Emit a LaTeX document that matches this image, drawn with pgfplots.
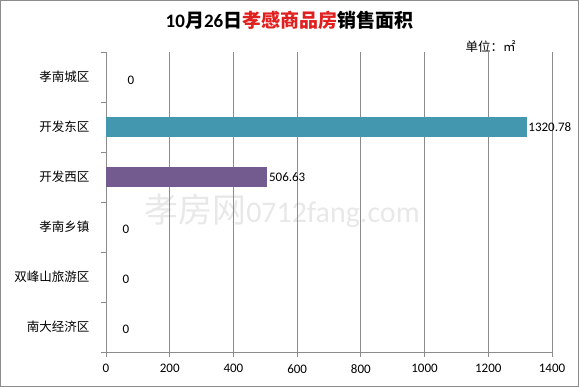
\documentclass[border=0pt]{standalone}
\usepackage{pgfplots}
\pgfplotsset{compat=1.18}
\usepackage{fontspec}
\setmainfont{Noto Sans CJK SC}
\newfontfamily\carlito{Carlito}
\newfontfamily\cjk{Noto Sans CJK SC}
\definecolor{barA}{HTML}{4397AE}
\definecolor{barB}{HTML}{735A8F}
\definecolor{gridc}{HTML}{8C8C8C}
\definecolor{titlered}{HTML}{E0201F}
\begin{document}
\begin{tikzpicture}[x=1pt,y=1pt]
\useasboundingbox (0,0) rectangle (579,387);
\draw[gridc, line width=1pt] (0.5,0.5) rectangle (578.5,386.5);
\node[font=\fontsize{19}{19}\selectfont\bfseries] at (289.5,367) {{\carlito 10}月{\carlito 26}日\textcolor{titlered}{孝感商品房}销售面积};
\node[font=\fontsize{12.5}{12.5}\selectfont, anchor=west] at (462,340) {单位：㎡};
\node[font=\fontsize{34}{34}\selectfont, text=black!9] at (282,176) {孝房网{\carlito\fontsize{30}{30}\selectfont 0712fang.com}};
\begin{axis}[
  at={(106pt,35pt)}, anchor=south west, scale only axis,
  width=446pt, height=300pt,
  xmin=0, xmax=1400, ymin=-0.5, ymax=5.5,
  xbar, bar shift=0pt, bar width=20pt,
  xtick={0,200,...,1400},
  ytick={0,1,2,3,4,5},
  yticklabels={南大经济区,双峰山旅游区,孝南乡镇,开发西区,开发东区,孝南城区},
  minor ytick={-0.5,0.5,...,5.5},
  tick align=outside,
  major tick length=5pt, minor tick length=5pt,
  ytick style={draw=none},
  minor y tick style={draw=gridc, line width=0.8pt},
  x tick style={draw=gridc, line width=0.8pt},
  xmajorgrids, grid style={gridc, line width=0.8pt},
  axis x line*=bottom, axis y line*=left,
  axis line style={gridc, line width=0.8pt, -},
  tick pos=left,
  /pgf/number format/assume math mode=true,
  /pgf/number format/fixed,
  /pgf/number format/precision=2,
  /pgf/number format/1000 sep={},
  xticklabel style={font=\carlito\fontsize{13}{13}\selectfont, yshift=-4pt},
  yticklabel style={font=\cjk\fontsize{12.5}{12.5}\selectfont, xshift=-8pt},
  nodes near coords,
  every node near coord/.append style={anchor=west, inner sep=1.5pt, font=\carlito\fontsize{13}{13}\selectfont, text=black},
]
\addplot[fill=barA, draw=none] coordinates {(1320.78,4)};
\addplot[fill=barB, draw=none] coordinates {(506.63,3)};
\addplot[fill=none, draw=none, every node near coord/.append style={xshift=20pt, yshift=-3pt}] coordinates {(0,5)};
\addplot[fill=none, draw=none, every node near coord/.append style={xshift=15pt, yshift=-2pt}] coordinates {(0,2) (0,1) (0,0)};
\end{axis}
\end{tikzpicture}
\end{document}
